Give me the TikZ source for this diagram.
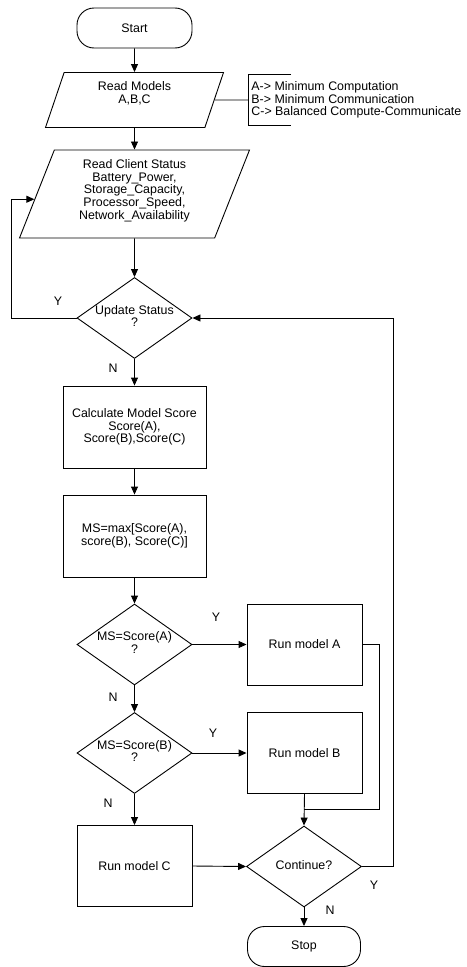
\documentclass[tikz,border=0pt]{standalone}
\usepackage{fontspec}
\setmainfont{Liberation Sans}
\usetikzlibrary{shapes.geometric,arrows.meta,calc}
\newcommand{\dlines}[1]{\makebox[0pt]{\begin{tabular}{@{}c@{}}#1\end{tabular}}}
\begin{document}
\begin{tikzpicture}[x=1bp,y=-1bp,
  font=\fontsize{12.4bp}{12.6bp}\selectfont,
  line width=0.9bp,
  term/.style={draw,rounded corners=17bp,minimum width=115bp,minimum height=40bp,inner sep=0pt},
  io/.style={draw,trapezium,trapezium left angle=63,trapezium right angle=117,
    trapezium stretches body,align=center,inner sep=0pt},
  proc/.style={draw,rectangle,align=center,inner sep=0pt,minimum width=115bp,minimum height=81bp},
  decis/.style={draw,diamond,minimum width=115bp,minimum height=81bp,inner sep=0pt},
  arr/.style={-{Triangle[length=8bp,width=7bp]}}]
  \useasboundingbox (0,0) rectangle (467,967);
  % main column
  \node[term] (start) at (134.5,28) {Start};
  \node[io,minimum width=178bp,minimum height=55bp,text depth=15bp] (models) at (134.5,100) {Read Models\\A,B,C};
  \node[anchor=west,minimum height=50bp,inner xsep=3bp,inner ysep=0pt,align=left] (legend) at (248,100)
    {A-> Minimum Computation\\B-> Minimum Communication\\C-> Balanced Compute-Communicate};
  \node[io,minimum width=230bp,minimum height=88bp,text depth=9bp] (client) at (134.5,194)
    {Read Client Status\\Battery\_Power,\\Storage\_Capacity,\\Processor\_Speed,\\Network\_Availability};
  \node[decis] (update) at (134.5,318) {\dlines{Update Status\\?}};
  \node[proc,minimum width=143bp,minimum height=82bp] (calc) at (134.5,427)
    {Calculate Model Score\\Score(A),\\Score(B),Score(C)};
  \node[proc,minimum width=143bp,minimum height=82bp] (maxsc) at (134.5,536)
    {MS=max[Score(A),\\score(B), Score(C)]};
  \node[decis] (decA) at (134.5,644.5) {\dlines{MS=Score(A)\\?}};
  \node[decis] (decB) at (134.5,753) {\dlines{MS=Score(B)\\?}};
  \node[proc] (runC) at (134.5,866) {Run model C};
  % right column
  \node[proc] (runA) at (304.5,644.5) {Run model A};
  \node[proc] (runB) at (304.5,753) {Run model B};
  \node[decis] (cont) at (304,866.5) {\dlines{Continue?}};
  \node[term,minimum width=113bp] (stop) at (304,946.5) {Stop};
  % branch labels
  \foreach \txt/\px/\py [count=\k] in {Y/58/301,N/113/368,Y/216/617,N/113/697,
      Y/213/733,N/108/803,Y/374/885,N/330/910}
    \node (yn\k) at (\px,\py) {\txt};
  % connectors
  \draw[arr] (start.south) -- (models.north);
  \draw (models.east) -- (legend.west);
  \draw ([xshift=43bp]legend.north west) -- (legend.north west) -- (legend.south west)
    -- ([xshift=43bp]legend.south west);
  \draw[arr] (models.south) -- (client.north);
  \draw[arr] (client.south) -- (update.north);
  \draw[arr] (update.west) -- ++(-65,0) |- (client.183);
  \draw[arr] (update.south) -- (calc.north);
  \draw[arr] (calc.south) -- (maxsc.north);
  \draw[arr] (maxsc.south) -- (decA.north);
  \draw[arr] (decA.east) -- (runA.west);
  \draw[arr] (decA.south) -- (decB.north);
  \draw[arr] (decB.east) -- (runB.west);
  \draw[arr] (decB.south) -- (runC.north);
  \draw[arr] (runC.east) -- (cont.west);
  \draw[arr] (runB.south) -- (cont.north);
  \draw (runA.east) -- ++(17,0) |- ($(runB.south)!0.5!(cont.north)$);
  \draw[arr] (cont.east) -- ++(31,0) |- (update.east);
  \draw[arr] (cont.south) -- (stop.north);
\end{tikzpicture}
\end{document}
